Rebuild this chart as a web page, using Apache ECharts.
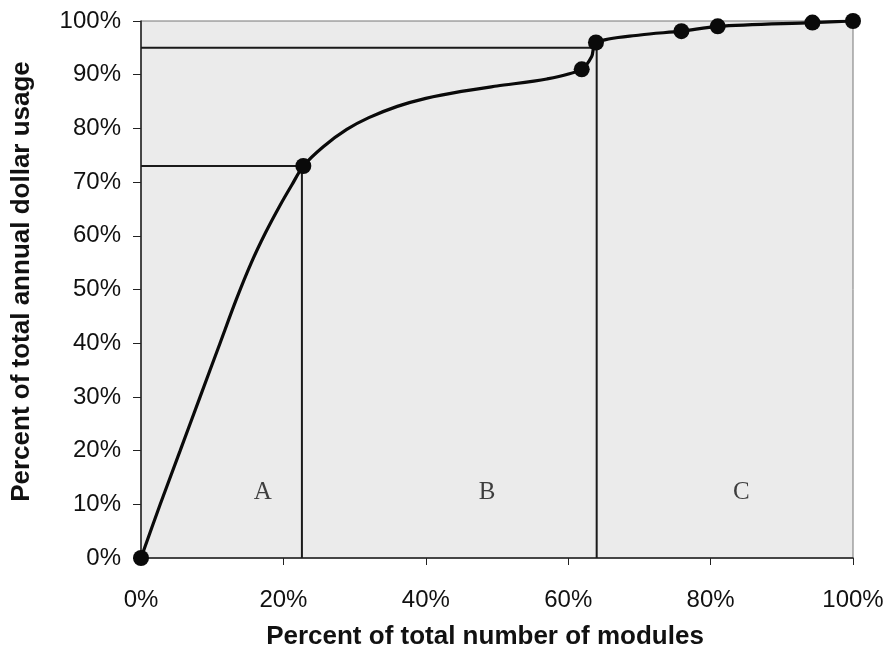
<!DOCTYPE html>
<html>
<head>
<meta charset="utf-8">
<script src="https://cdn.jsdelivr.net/npm/echarts@6/dist/echarts.min.js"></script>
<style>
html,body{margin:0;padding:0;background:#fff;}
#chart{width:889px;height:655px;}
</style>
</head>
<body>
<div id="chart"></div>
<script>
// Smooth cumulative curve
const curveX = [0, 2.7, 5.5, 8.3, 11.1, 13.4, 15.5, 17.5, 19.5, 21.2, 22.8, 25.6, 28.9, 32.0, 36.0, 40.0, 45.0, 50.0, 57.0, 61.9, 63.3, 63.9, 70.1, 75.9, 81.0, 94.3, 100];
const curveY = [0, 10, 20, 30, 40, 48.2, 55.0, 60.6, 65.6, 69.5, 73.0, 76.6, 79.8, 82.0, 84.1, 85.6, 86.9, 87.9, 89.2, 91.0, 93.4, 96.0, 97.4, 98.1, 99.0, 99.7, 100];
// Marked points
const pointX = [0, 22.8, 61.9, 63.9, 75.9, 81.0, 94.3, 100];
const pointY = [0, 73.0, 91.0, 96.0, 98.1, 99.0, 99.7, 100];
// Class boundaries (x cut, y cut)
const cutA = [22.6, 73.0];
const cutB = [64.0, 95.0];
// Class labels
const classNames = ['A', 'B', 'C'];
const classX = [17.1, 48.6, 84.3];
const classY = [12.2, 12.2, 12.2];
const xTicks = [0, 20, 40, 60, 80, 100];
const yTicks = [0, 10, 20, 30, 40, 50, 60, 70, 80, 90, 100];

const zip = (a, b) => a.map((v, i) => [v, b[i]]);
const refLine = c => [[0, c[1]], [c[0], c[1]], [c[0], 0]];

const chart = echarts.init(document.getElementById('chart'));
chart.setOption({
  animation: false,
  grid: {
    left: 141, right: 36, top: 21, bottom: 97,
    show: true, backgroundColor: '#ebebeb', borderColor: '#777', borderWidth: 1
  },
  xAxis: {
    type: 'value', min: 0, max: 100, interval: 20,
    name: 'Percent of total number of modules',
    nameLocation: 'middle', nameGap: 66,
    nameTextStyle: { fontFamily: 'Liberation Sans', fontWeight: 'bold', fontSize: 26, color: '#111',
      padding: [0, 24, 0, 0] },
    axisLine: { show: true, lineStyle: { color: '#222', width: 1.5 } },
    axisTick: { show: true, length: 7, inside: false, lineStyle: { color: '#222' } },
    axisLabel: { margin: 30, fontFamily: 'Liberation Sans', fontSize: 24, color: '#111',
      formatter: v => xTicks.includes(v) ? v + '%' : '' },
    splitLine: { show: false }
  },
  yAxis: {
    type: 'value', min: 0, max: 100, interval: 10,
    name: 'Percent of total annual dollar usage',
    nameLocation: 'middle', nameGap: 106, nameRotate: 90,
    nameTextStyle: { fontFamily: 'Liberation Sans', fontWeight: 'bold', fontSize: 26, color: '#111',
      padding: [0, 0, 0, 16] },
    axisLine: { show: true, lineStyle: { color: '#222', width: 1.5 } },
    axisTick: { show: true, length: 8, inside: false, lineStyle: { color: '#222' } },
    axisLabel: { margin: 20, fontFamily: 'Liberation Sans', fontSize: 24, color: '#111',
      formatter: v => yTicks.includes(v) ? v + '%' : '' },
    splitLine: { show: false }
  },
  series: [
    { type: 'line', data: refLine(cutA), symbol: 'none', silent: true,
      lineStyle: { color: '#1a1a1a', width: 2 }, z: 2 },
    { type: 'line', data: refLine(cutB), symbol: 'none', silent: true,
      lineStyle: { color: '#1a1a1a', width: 2 }, z: 2 },
    { type: 'line', data: zip(curveX, curveY), symbol: 'none', smooth: 0.3,
      lineStyle: { color: '#0a0a0a', width: 3.2 }, z: 3 },
    { type: 'scatter', data: zip(pointX, pointY), symbol: 'circle', symbolSize: 16,
      itemStyle: { color: '#0a0a0a', opacity: 1 }, z: 4 },
    { type: 'scatter', data: classX.map((x, i) => ({ value: [x, classY[i]], name: classNames[i] })),
      symbolSize: 1, itemStyle: { color: 'rgba(0,0,0,0)' },
      label: { show: true, position: 'inside', formatter: p => p.name,
        fontFamily: 'Liberation Serif', fontSize: 25, color: '#111' }, z: 5 }
  ]
});
</script>
</body>
</html>
